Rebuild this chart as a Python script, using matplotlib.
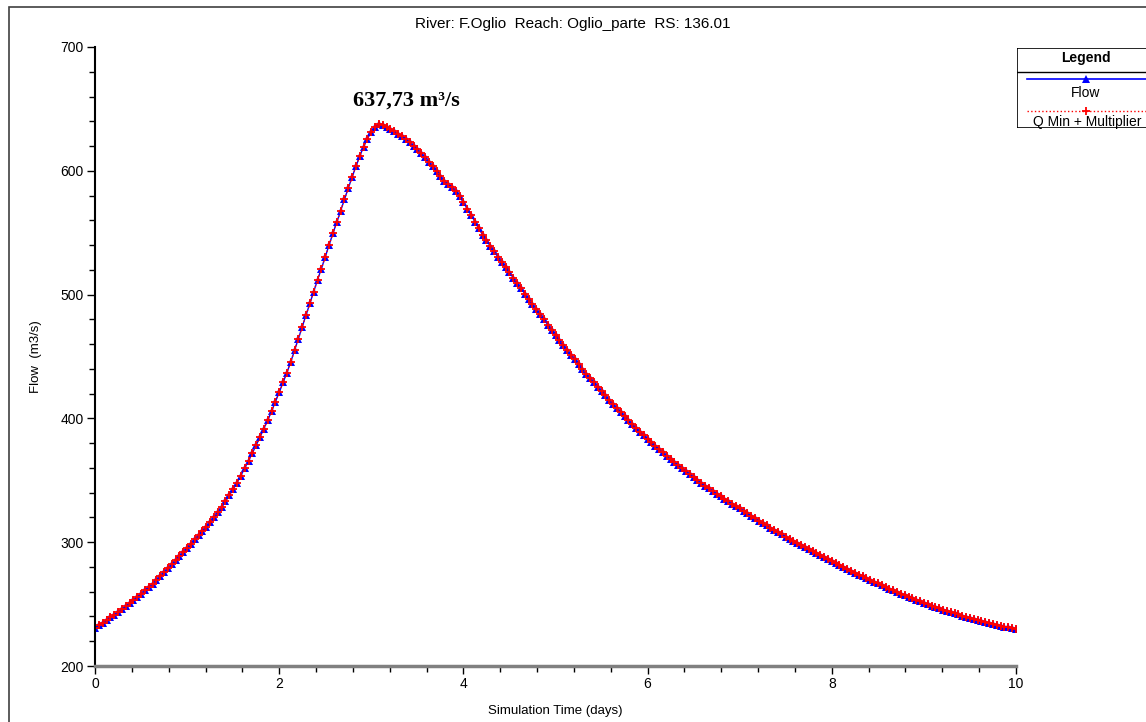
import matplotlib
matplotlib.use("Agg")
import matplotlib.pyplot as plt
from matplotlib.patches import Rectangle
from matplotlib.lines import Line2D
from matplotlib.ticker import MultipleLocator

plt.rcParams["font.family"] = ["Liberation Sans", "DejaVu Sans"]

title = "River: F.Oglio  Reach: Oglio_parte  RS: 136.01"
peak_label = "637,73 m³/s"

# hourly flow values (m3/s), 0 .. 240 h
flow = [
    231.0, 233.0, 235.0, 237.1, 239.2, 241.4, 243.6, 245.8, 248.2, 250.6, 253.1, 255.7,
    258.3, 261.0, 263.8, 266.6, 269.5, 272.6, 275.7, 278.9, 282.1, 285.4, 288.7, 292.1,
    295.5, 298.8, 302.2, 305.6, 309.0, 312.5, 316.3, 320.2, 324.2, 328.3, 333.0, 338.0,
    343.0, 348.0, 353.8, 359.7, 365.8, 372.0, 378.4, 385.0, 391.7, 398.6, 405.6, 413.5,
    421.0, 429.0, 437.0, 445.5, 455.0, 464.5, 474.0, 483.5, 493.0, 502.5, 512.0, 521.0,
    530.5, 540.0, 549.5, 558.5, 567.5, 577.0, 586.0, 595.0, 603.5, 612.0, 619.5, 626.0,
    631.5, 635.5, 637.7, 637.2, 635.5, 633.7, 631.8, 630.0, 628.3, 626.0, 623.2, 620.3,
    617.3, 614.1, 610.8, 607.3, 603.6, 599.6, 595.5, 592.0, 589.4, 587.0, 583.8, 579.5,
    574.5, 569.5, 564.5, 559.0, 553.5, 548.5, 544.0, 539.5, 535.0, 530.5, 526.5, 522.3,
    518.0, 513.7, 509.4, 505.1, 500.8, 496.6, 492.4, 488.2, 484.0, 479.9, 475.8, 471.7,
    467.6, 463.5, 459.5, 455.5, 451.5, 447.6, 443.7, 439.9, 436.2, 432.6, 429.0, 425.5,
    422.0, 418.5, 415.0, 411.6, 408.2, 405.0, 401.8, 398.6, 395.5, 392.4, 389.4, 386.5,
    383.6, 380.8, 378.0, 375.3, 372.6, 369.9, 367.2, 364.6, 362.1, 359.6, 357.2, 354.8,
    352.5, 350.2, 347.9, 345.6, 343.4, 341.2, 339.1, 337.0, 335.0, 333.0, 331.1, 329.2,
    327.4, 325.4, 323.4, 321.4, 319.4, 317.5, 315.6, 313.7, 311.8, 310.0, 308.2, 306.4,
    304.6, 302.9, 301.2, 299.5, 297.8, 296.2, 294.6, 293.0, 291.4, 289.6, 288.0, 286.4,
    284.8, 283.2, 281.6, 280.0, 278.4, 276.9, 275.4, 273.9, 272.4, 270.9, 269.5, 268.1,
    266.7, 265.3, 263.9, 262.5, 261.1, 259.8, 258.5, 257.2, 255.9, 254.7, 253.5, 252.3,
    251.1, 249.9, 248.8, 247.7, 246.6, 245.6, 244.6, 243.6, 242.6, 241.6, 240.7, 239.8,
    238.9, 238.0, 237.1, 236.2, 235.4, 234.6, 233.8, 233.0, 232.6, 231.9, 231.2, 230.6,
    230.0,
]
# Q Min + Multiplier coincides with the computed flow
qmin_mult = list(flow)
hours = list(range(len(flow)))
days = [h / 24 for h in hours]

fig = plt.figure(figsize=(11.46, 7.22), dpi=100)

# outer frame (left and top edges visible)
fig.add_artist(Rectangle((9 / 1146, -0.1), 1.2, 1.1 - 7 / 722,
                         transform=fig.transFigure, fill=False,
                         edgecolor="#404040", linewidth=1.2))

ax = fig.add_axes([95 / 1146, 1 - 666 / 722, (1016 - 95) / 1146, (666 - 47) / 722])

ax.plot(days, flow, color="blue", linewidth=1.0, marker="^", markersize=6,
        markeredgewidth=0, label="Flow")
ax.plot(days, qmin_mult, color="red", linewidth=1.0, linestyle=":", marker="+",
        markersize=6, markeredgewidth=1.3, label="Q Min + Multiplier")

ax.set_xlim(0, 10)
ax.set_ylim(200, 700)
ax.xaxis.set_major_locator(MultipleLocator(2))
ax.xaxis.set_minor_locator(MultipleLocator(0.4))
ax.yaxis.set_major_locator(MultipleLocator(100))
ax.yaxis.set_minor_locator(MultipleLocator(20))
ax.tick_params(which="major", length=6, width=1, labelsize=10, pad=2)
ax.tick_params(which="minor", length=4, width=1)
ax.spines["top"].set_visible(False)
ax.spines["right"].set_visible(False)
ax.spines["left"].set_linewidth(1.5)
ax.spines["bottom"].set_color("#808080")
ax.spines["bottom"].set_linewidth(2.5)

ax.set_xlabel("Simulation Time (days)", fontsize=9.5, labelpad=10)
ax.set_ylabel("Flow  (m3/s)", fontsize=9.5, labelpad=13)
fig.text(573 / 1146, 1 - 24 / 722, title, ha="center", va="center", fontsize=11)

ax.text(3.38, 657, peak_label, ha="center", va="center", fontsize=16,
        fontweight="bold", family=["Liberation Serif", "DejaVu Serif"])

# legend box drawn in pixel-like coordinates
lax = fig.add_axes([1017 / 1146, 1 - 128 / 722, 140 / 1146, 80 / 722])
lax.set_xlim(0, 140)
lax.set_ylim(80, 0)
lax.axis("off")
lax.add_patch(Rectangle((0, 0), 140, 80, fill=False, edgecolor="black", linewidth=1.2))
lax.plot([0, 140], [24, 24], color="black", linewidth=1.0)
lax.text(69, 10, "Legend", ha="center", va="center", fontsize=10, fontweight="bold")
lax.add_line(Line2D([10, 140], [31, 31], color="blue", linewidth=1.2))
lax.plot([69], [31], marker="^", color="blue", markersize=6, markeredgewidth=0)
lax.text(69, 45, "Flow", ha="center", va="center", fontsize=10)
lax.add_line(Line2D([10, 140], [63, 63], color="red", linewidth=1.0, linestyle=":"))
lax.plot([69], [63], marker="+", color="red", markersize=6, markeredgewidth=1.3)
lax.text(70, 74, "Q Min + Multiplier", ha="center", va="center", fontsize=10)

fig.savefig("out.png", dpi=100)
